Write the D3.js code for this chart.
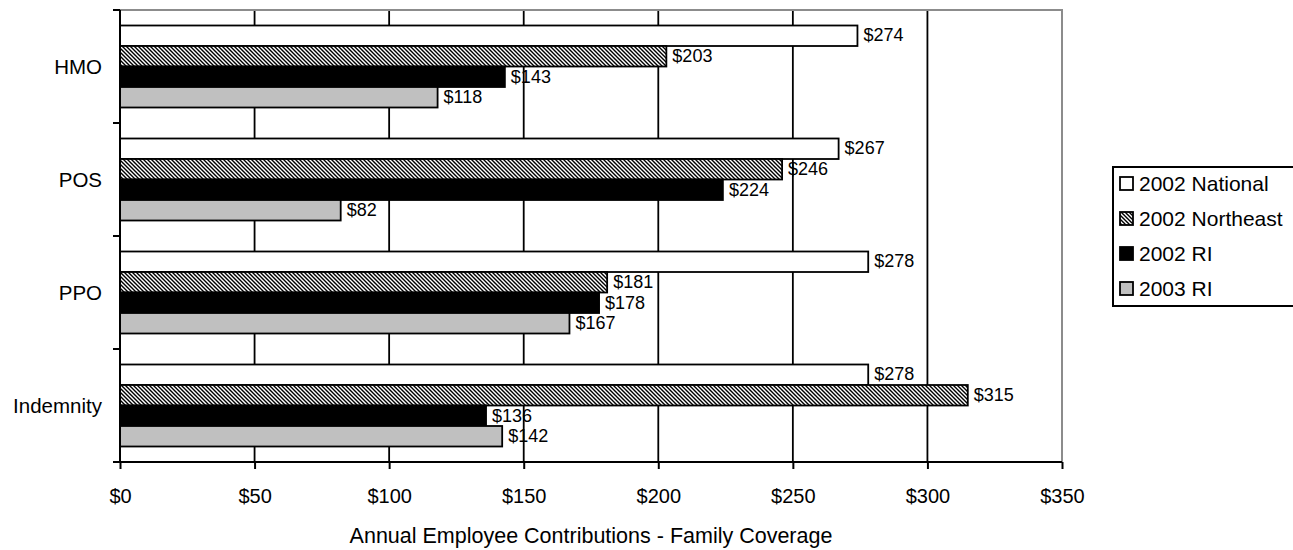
<!DOCTYPE html>
<html>
<head>
<meta charset="utf-8">
<script src="https://cdn.jsdelivr.net/npm/d3@7"></script>
<style>
  html, body { margin: 0; padding: 0; background: #fff; }
  svg { display: block; font-family: "Liberation Sans", Arial, sans-serif; }
</style>
</head>
<body>
<svg id="chart" width="1293" height="550"></svg>
<script>
// Plan types (top to bottom) and the four comparison series
const categories = ["HMO", "POS", "PPO", "Indemnity"];
const seriesNames = ["2002 National", "2002 Northeast", "2002 RI", "2003 RI"];

// Annual employee contributions, family coverage ($), one array per series
const national2002  = [274, 267, 278, 278];
const northeast2002 = [203, 246, 181, 315];
const ri2002        = [143, 224, 178, 136];
const ri2003        = [118,  82, 167, 142];

const xTickValues = [0, 50, 100, 150, 200, 250, 300, 350];
const axisTitle = "Annual Employee Contributions - Family Coverage";

const seriesValues = [national2002, northeast2002, ri2002, ri2003];
const seriesFill = ["#ffffff", "url(#hatch)", "#000000", "#c0c0c0"];

const svg = d3.select("#chart");

// Diagonal hatch used by the Northeast series
const defs = svg.append("defs");
const pat = defs.append("pattern")
  .attr("id", "hatch")
  .attr("patternUnits", "userSpaceOnUse")
  .attr("width", 4).attr("height", 4);
pat.append("rect").attr("width", 4).attr("height", 4).attr("fill", "#fff");
pat.append("path")
  .attr("d", "M-1,-1 L5,5 M-1,3 L1,5 M3,-1 L5,1")
  .attr("stroke", "#000").attr("stroke-width", 1.4);

const plot = { left: 120, right: 1062, top: 10, bottom: 462 };

const x = d3.scaleLinear().domain([0, 350]).range([plot.left, plot.right]);
const y = d3.scaleBand().domain(categories).range([plot.top, plot.bottom]).padding(0);
const yInner = d3.scaleBand().domain(seriesNames).range([0, y.bandwidth()])
  .paddingInner(0).paddingOuter(0.756);

// Vertical gridlines
svg.append("g").selectAll("line")
  .data(xTickValues.filter(d => d > 0 && d < 350))
  .join("line")
  .attr("x1", d => x(d)).attr("x2", d => x(d))
  .attr("y1", plot.top).attr("y2", plot.bottom)
  .attr("stroke", "#000").attr("stroke-width", 1.8);

// Plot frame: top and right in gray
svg.append("path")
  .attr("d", `M${plot.left},${plot.top}H${plot.right}V${plot.bottom}`)
  .attr("fill", "none").attr("stroke", "#8c8c8c").attr("stroke-width", 2);

// Bars
const rows = [];
categories.forEach((c, i) => {
  seriesNames.forEach((s, j) => {
    rows.push({ cat: c, series: s, value: seriesValues[j][i], fill: seriesFill[j] });
  });
});

svg.append("g").selectAll("rect")
  .data(rows)
  .join("rect")
  .attr("x", x(0))
  .attr("y", d => y(d.cat) + yInner(d.series))
  .attr("width", d => x(d.value) - x(0))
  .attr("height", yInner.bandwidth())
  .attr("fill", d => d.fill)
  .attr("stroke", "#000").attr("stroke-width", 1.8);

// Value labels
svg.append("g").selectAll("text")
  .data(rows)
  .join("text")
  .attr("x", d => x(d.value) + 6)
  .attr("y", d => y(d.cat) + yInner(d.series) + yInner.bandwidth() / 2 + 1)
  .attr("dominant-baseline", "middle")
  .attr("font-size", 18)
  .attr("fill", "#000")
  .text(d => "$" + d.value);

// Bottom axis
const xAxis = svg.append("g")
  .attr("transform", `translate(0,${plot.bottom})`)
  .call(d3.axisBottom(x).tickValues(xTickValues).tickSize(7).tickPadding(20)
    .tickFormat(d => "$" + d));
xAxis.select(".domain").attr("stroke", "#000").attr("stroke-width", 2)
  .attr("d", `M${plot.left - 7},0H${plot.right}`);
xAxis.selectAll(".tick line").attr("stroke", "#000").attr("stroke-width", 2);
xAxis.selectAll(".tick text").attr("font-size", 20).attr("fill", "#000")
  .attr("font-family", "Liberation Sans, Arial, sans-serif");

// Left axis: line plus ticks at band boundaries
const boundaries = categories.map(c => y(c)).concat([plot.bottom]);
const yAxis = svg.append("g");
yAxis.append("line")
  .attr("x1", plot.left).attr("x2", plot.left)
  .attr("y1", plot.top).attr("y2", plot.bottom)
  .attr("stroke", "#000").attr("stroke-width", 2);
yAxis.selectAll("line.tick")
  .data(boundaries)
  .join("line")
  .attr("class", "tick")
  .attr("x1", plot.left - 7).attr("x2", plot.left)
  .attr("y1", d => d).attr("y2", d => d)
  .attr("stroke", "#000").attr("stroke-width", 2);
yAxis.selectAll("text")
  .data(categories)
  .join("text")
  .attr("x", 102)
  .attr("y", d => y(d) + y.bandwidth() / 2 + 2)
  .attr("text-anchor", "end")
  .attr("dominant-baseline", "middle")
  .attr("font-size", 20.5)
  .text(d => d);

// Axis title
svg.append("text")
  .attr("x", (plot.left + plot.right) / 2)
  .attr("y", 543)
  .attr("text-anchor", "middle")
  .attr("font-size", 21.5)
  .text(axisTitle);

// Legend
const legend = svg.append("g");
legend.append("rect")
  .attr("x", 1113).attr("y", 167)
  .attr("width", 200).attr("height", 139)
  .attr("fill", "#fff").attr("stroke", "#000").attr("stroke-width", 2);
const items = legend.selectAll("g.item")
  .data(seriesNames)
  .join("g")
  .attr("class", "item")
  .attr("transform", (d, i) => `translate(1120,${184 + i * 35})`);
items.append("rect")
  .attr("x", 0).attr("y", -7)
  .attr("width", 13).attr("height", 13)
  .attr("fill", (d, i) => seriesFill[i])
  .attr("stroke", "#000").attr("stroke-width", 1.8);
items.append("text")
  .attr("x", 19).attr("y", 1)
  .attr("dominant-baseline", "middle")
  .attr("font-size", 21)
  .text(d => d);
</script>
</body>
</html>
